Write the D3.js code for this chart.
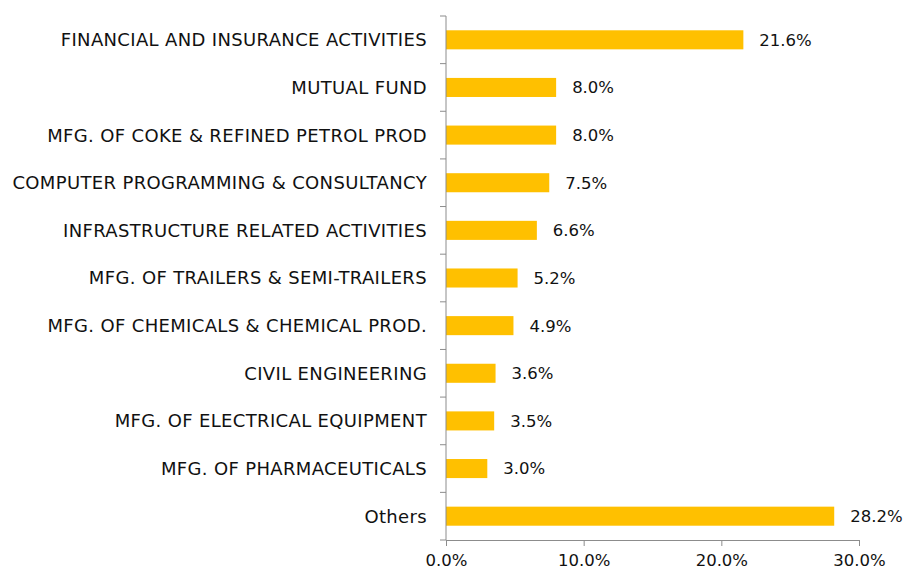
<!DOCTYPE html>
<meta charset="utf-8">
<style>
body { margin: 0; background: #fff; }
text {
  font-family: "DejaVu Sans", sans-serif;
  fill: #111;
}
.axis path, .axis line { stroke: #8c8c8c; }
</style>
<svg width="905" height="577"></svg>
<script src="https://d3js.org/d3.v7.min.js"></script>
<script>

var sectors = [
  "FINANCIAL AND INSURANCE ACTIVITIES",
  "MUTUAL FUND",
  "MFG. OF COKE & REFINED PETROL PROD",
  "COMPUTER PROGRAMMING & CONSULTANCY",
  "INFRASTRUCTURE RELATED ACTIVITIES",
  "MFG. OF TRAILERS & SEMI-TRAILERS",
  "MFG. OF CHEMICALS & CHEMICAL PROD.",
  "CIVIL ENGINEERING",
  "MFG. OF ELECTRICAL EQUIPMENT",
  "MFG. OF PHARMACEUTICALS",
  "Others"
];
var shares = [21.6, 8.0, 8.0, 7.5, 6.6, 5.2, 4.9, 3.6, 3.5, 3.0, 28.2];
var xTicks = [0, 10, 20, 30];

var svg = d3.select("svg");
var plotLeft = 446, plotRight = 859, plotTop = 16, plotBottom = 540;

var x = d3.scaleLinear().domain([0, 30]).range([plotLeft, plotRight]);
var y = d3.scaleBand().domain(sectors).range([plotTop, plotBottom]).paddingInner(0.6).paddingOuter(0.3);

var data = sectors.map(function(s, i) { return {name: s, value: shares[i]}; });

// bars
svg.append("g").selectAll("rect")
  .data(data)
  .enter().append("rect")
    .attr("x", x(0))
    .attr("y", function(d) { return y(d.name); })
    .attr("width", function(d) { return x(d.value) - x(0); })
    .attr("height", y.bandwidth())
    .attr("fill", "#ffc000");

// value labels
svg.append("g").selectAll("text")
  .data(data)
  .enter().append("text")
    .attr("x", function(d) { return x(d.value) + 16; })
    .attr("y", function(d) { return y(d.name) + y.bandwidth() / 2; })
    .attr("dy", "0.36em")
    .style("font-size", "16.5px")
    .text(function(d) { return d.value.toFixed(1) + "%"; });

// x axis
var xAxis = svg.append("g")
    .attr("class", "axis")
    .attr("transform", "translate(0," + plotBottom + ")")
    .call(d3.axisBottom(x).tickValues(xTicks).tickSize(6).tickSizeOuter(0)
      .tickFormat(function(d) { return d.toFixed(1) + "%"; }));
xAxis.selectAll("text").style("font-size", "16.5px").attr("dy", "1.05em").style("fill", "#111");

// y axis: ticks at category boundaries
var yAxis = svg.append("g").attr("class", "axis");
yAxis.append("line")
    .attr("x1", plotLeft).attr("x2", plotLeft)
    .attr("y1", plotTop).attr("y2", plotBottom);
yAxis.selectAll("line.tick")
  .data(d3.range(sectors.length + 1))
  .enter().append("line")
    .attr("class", "tick")
    .attr("x1", plotLeft - 6).attr("x2", plotLeft)
    .attr("y1", function(i) { return plotTop + i * (plotBottom - plotTop) / sectors.length; })
    .attr("y2", function(i) { return plotTop + i * (plotBottom - plotTop) / sectors.length; });

svg.append("g").selectAll("text")
  .data(sectors)
  .enter().append("text")
    .attr("x", plotLeft - 19)
    .attr("y", function(d) { return y(d) + y.bandwidth() / 2; })
    .attr("dy", "0.36em")
    .attr("text-anchor", "end")
    .style("font-size", "18px")
    .style("letter-spacing", "0.35px")
    .text(function(d) { return d; });

</script>
